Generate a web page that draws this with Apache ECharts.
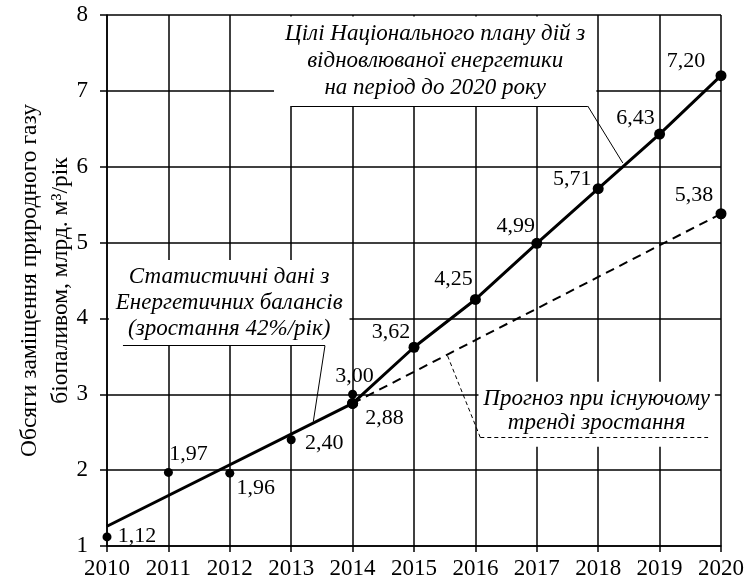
<!DOCTYPE html>
<html>
<head>
<meta charset="utf-8">
<script src="https://cdn.jsdelivr.net/npm/echarts@6/dist/echarts.min.js"></script>
<style>
  html, body { margin: 0; padding: 0; background: #fff; }
  #chart { width: 745px; height: 587px; }
</style>
</head>
<body>
<div id="chart"></div>
<script>
  // статистичні дані (точки)
  const statYears = [2010, 2011, 2012, 2013, 2014]
  const statValues = [1.12, 1.97, 1.96, 2.40, 3.00]
  // лінія тренду за статистикою
  const trendYears = [2010, 2014]
  const trendValues = [1.26, 2.88]
  // цілі Національного плану
  const planYears = [2014, 2015, 2016, 2017, 2018, 2019, 2020]
  const planValues = [2.88, 3.62, 4.25, 4.99, 5.71, 6.43, 7.20]
  // прогноз при існуючому тренді
  const forecastYears = [2014, 2020]
  const forecastValues = [2.88, 5.38]

  // зсуви підписів від точок (px)
  const statLabelOffsets = [[30, -1], [20, -18], [26, 15], [33, 3], [2, -18]]
  const planLabelOffsets = [[32, 15], [-23, -15], [-22, -20], [-21, -17], [-26, -9], [-24, -16], [-35, -14]]
  const forecastLabelOffsets = [null, [-27, -19]]

  const FONT = 'Liberation Serif'
  const fmt = v => v.toFixed(2).replace('.', ',')

  function labelled (xs, ys, offsets) {
    return xs.map((x, i) => ({
      value: [x, ys[i]],
      label: offsets[i]
        ? { show: true, position: 'inside', offset: offsets[i], formatter: fmt(ys[i]) }
        : { show: false }
    }))
  }

  const labelStyle = { color: '#000', fontFamily: FONT, fontSize: 22 }
  const noteStyle = {
    show: true,
    position: 'inside',
    color: '#000',
    fontFamily: FONT,
    fontStyle: 'italic',
    fontSize: 23,
    lineHeight: 26
  }

  const chart = echarts.init(document.getElementById('chart'))
  chart.setOption({
    animation: false,
    backgroundColor: '#fff',
    grid: { left: 107, right: 24, top: 15, bottom: 41, outerBoundsMode: 'none', containLabel: false },
    xAxis: {
      type: 'value',
      min: 2010,
      max: 2020,
      interval: 1,
      axisLine: { lineStyle: { color: '#000', width: 1.5 } },
      axisTick: { show: true, length: 6, lineStyle: { color: '#000', width: 1.5 } },
      axisLabel: { color: '#000', fontFamily: FONT, fontSize: 23, margin: 11, formatter: v => String(v) },
      splitLine: { show: true, lineStyle: { color: '#000', width: 1.5 } }
    },
    yAxis: {
      type: 'value',
      min: 1,
      max: 8,
      interval: 1,
      name: 'Обсяги заміщення природного газу\nбіопаливом, млрд. м³/рік',
      nameLocation: 'middle',
      nameGap: 31,
      nameMoveOverlap: false,
      nameTextStyle: { color: '#000', fontFamily: FONT, fontSize: 23.5, lineHeight: 31 },
      axisLine: { show: true, lineStyle: { color: '#000', width: 1.5 } },
      axisTick: { show: true, length: 7, lineStyle: { color: '#000', width: 1.5 } },
      axisLabel: { color: '#000', fontFamily: FONT, fontSize: 23, margin: 19 },
      splitLine: { show: true, lineStyle: { color: '#000', width: 1.5 } }
    },
    series: [
      {
        // білі поля під написами та виносні лінії
        name: 'notes',
        type: 'line',
        data: [],
        z: 1,
        silent: true,
        markArea: {
          silent: true,
          itemStyle: { color: '#fff', borderWidth: 0 },
          label: noteStyle,
          data: [
            [{ xAxis: 2012.72, yAxis: 7.98, name: 'Цілі Національного плану дій з\nвідновлюваної енергетики\nна період до 2020 року', label: { lineHeight: 27 } },
              { xAxis: 2017.97, yAxis: 6.8 }],
            [{ xAxis: 2010.03, yAxis: 4.77, name: 'Статистичні дані з\nЕнергетичних балансів\n(зростання 42%/рік)' },
              { xAxis: 2013.95, yAxis: 3.65 }],
            [{ xAxis: 2016.05, yAxis: 3.165, name: 'Прогноз при існуючому\nтренді зростання', label: { lineHeight: 24, offset: [0, -3] } },
              { xAxis: 2019.9, yAxis: 2.31 }]
          ]
        },
        markLine: {
          silent: true,
          symbol: ['none', 'none'],
          label: { show: false },
          lineStyle: { color: '#000', width: 1, type: 'solid' },
          data: [
            [{ coord: [2013.0, 6.8] }, { coord: [2017.83, 6.8] }],
            [{ coord: [2017.83, 6.8] }, { coord: [2018.4, 6.05] }],
            [{ coord: [2010.26, 3.64] }, { coord: [2013.55, 3.64] }],
            [{ coord: [2013.55, 3.64] }, { coord: [2013.36, 2.64] }],
            [{ coord: [2016.08, 2.43], lineStyle: { type: [4, 3] } }, { coord: [2019.79, 2.43] }],
            [{ coord: [2016.08, 2.43], lineStyle: { type: [4, 3] } }, { coord: [2015.54, 3.52] }]
          ]
        }
      },
      {
        name: 'forecast',
        type: 'line',
        z: 3,
        data: labelled(forecastYears, forecastValues, forecastLabelOffsets),
        lineStyle: { color: '#000', width: 2, type: [9, 6] },
        symbol: 'circle',
        symbolSize: 11,
        itemStyle: { color: '#000' },
        label: labelStyle
      },
      {
        name: 'trend',
        type: 'line',
        z: 4,
        data: trendYears.map((x, i) => [x, trendValues[i]]),
        lineStyle: { color: '#000', width: 3 },
        symbol: 'none'
      },
      {
        name: 'plan',
        type: 'line',
        z: 4,
        data: labelled(planYears, planValues, planLabelOffsets),
        lineStyle: { color: '#000', width: 3 },
        symbol: 'circle',
        symbolSize: 11,
        itemStyle: { color: '#000' },
        label: labelStyle
      },
      {
        name: 'stat',
        type: 'scatter',
        z: 5,
        data: labelled(statYears, statValues, statLabelOffsets),
        symbolSize: 9,
        itemStyle: { color: '#000', opacity: 1 },
        label: labelStyle
      }
    ]
  })
</script>
</body>
</html>
